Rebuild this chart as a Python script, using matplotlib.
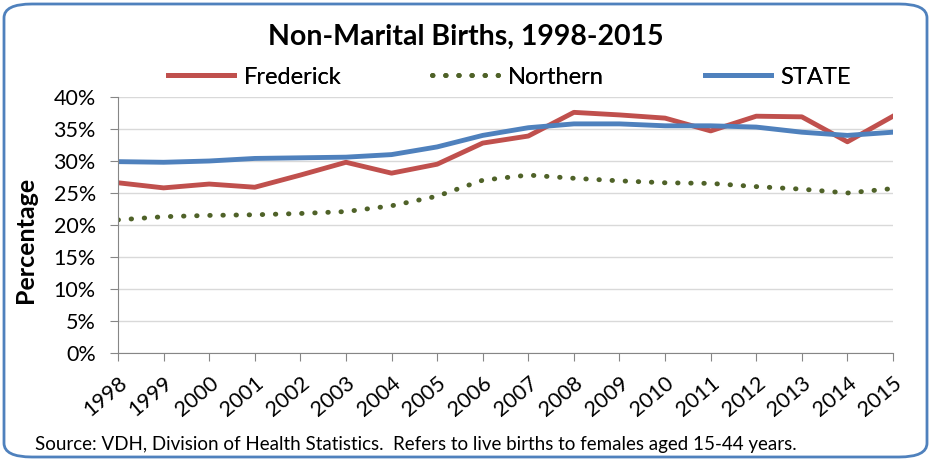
import matplotlib.pyplot as plt
from matplotlib.patches import FancyBboxPatch
from matplotlib.ticker import PercentFormatter

plt.rcParams['font.family'] = ['Lato', 'DejaVu Sans']

years = list(range(1998, 2016))
frederick = [26.6, 25.8, 26.4, 25.9, 27.8, 29.8, 28.1, 29.5, 32.8, 33.9,
             37.6, 37.2, 36.7, 34.7, 37.0, 36.9, 33.0, 37.0]
northern = [20.8, 21.3, 21.5, 21.6, 21.8, 22.1, 23.0, 24.5, 27.0, 27.8,
            27.3, 26.9, 26.6, 26.5, 26.0, 25.6, 25.0, 25.7]
state = [29.9, 29.8, 30.0, 30.4, 30.5, 30.6, 31.0, 32.2, 34.0, 35.2,
         35.8, 35.8, 35.5, 35.5, 35.3, 34.5, 34.0, 34.5]

fig = plt.figure(figsize=(9.31, 4.61), dpi=100)
ax = fig.add_axes([118 / 931, 1 - 353 / 461, (893 - 118) / 931, (353 - 97) / 461])

l1, = ax.plot(years, frederick, color='#C0504D', lw=3.5, label='Frederick')
l2, = ax.plot(years, northern, color='#4F6228', lw=3.5, ls=(0, (0.1, 2.6)),
              dash_capstyle='round', label='Northern')
l3, = ax.plot(years, state, color='#4F81BD', lw=3.5, label='STATE')

ax.set_xlim(1998, 2015)
ax.set_ylim(0, 40)
ax.set_yticks(range(0, 41, 5))
ax.yaxis.set_major_formatter(PercentFormatter(decimals=0))
ax.set_xticks(years)
ax.set_xticklabels([str(y) for y in years], rotation=40, ha='right', va='top',
                   rotation_mode='anchor')
ax.tick_params(axis='both', labelsize=15.5, direction='out', length=6, color='#868686')
ax.tick_params(axis='x', pad=8)
ax.tick_params(axis='y', pad=10)
ax.grid(axis='y', color='#D9D9D9', lw=1)
ax.set_axisbelow(True)
for s in ['top', 'right']:
    ax.spines[s].set_visible(False)
ax.spines['left'].set_color('#868686')
ax.spines['bottom'].set_color('#868686')
ax.set_ylabel('Percentage', fontsize=18, fontweight='bold')
ax.yaxis.set_label_coords(-0.104, 0.44)

fig.text(0.5, 1 - 37 / 461, 'Non-Marital Births, 1998-2015', ha='center', va='center',
         fontsize=20.5, fontweight='bold')
fig.text(35 / 931, 1 - 444 / 461,
         'Source: VDH, Division of Health Statistics.  Refers to live births to females aged 15-44 years.',
         ha='left', va='center', fontsize=13.5)

for line, x0 in [(l1, 168), (l2, 432), (l3, 705)]:
    fig.add_artist(fig.legend(handles=[line], loc='center left',
                              bbox_to_anchor=(x0 / 931, 1 - 77 / 461), frameon=False,
                              fontsize=17, handlelength=2.8, handletextpad=0.4,
                              borderaxespad=0, borderpad=0))

border = FancyBboxPatch((4 / 931, 4 / 461), 923 / 931, 453 / 461,
                        boxstyle='round,pad=0,rounding_size=0.03', transform=fig.transFigure,
                        fill=False, edgecolor='#4F81BD', lw=2)
fig.patches.append(border)

fig.savefig('out.png', dpi=100)
